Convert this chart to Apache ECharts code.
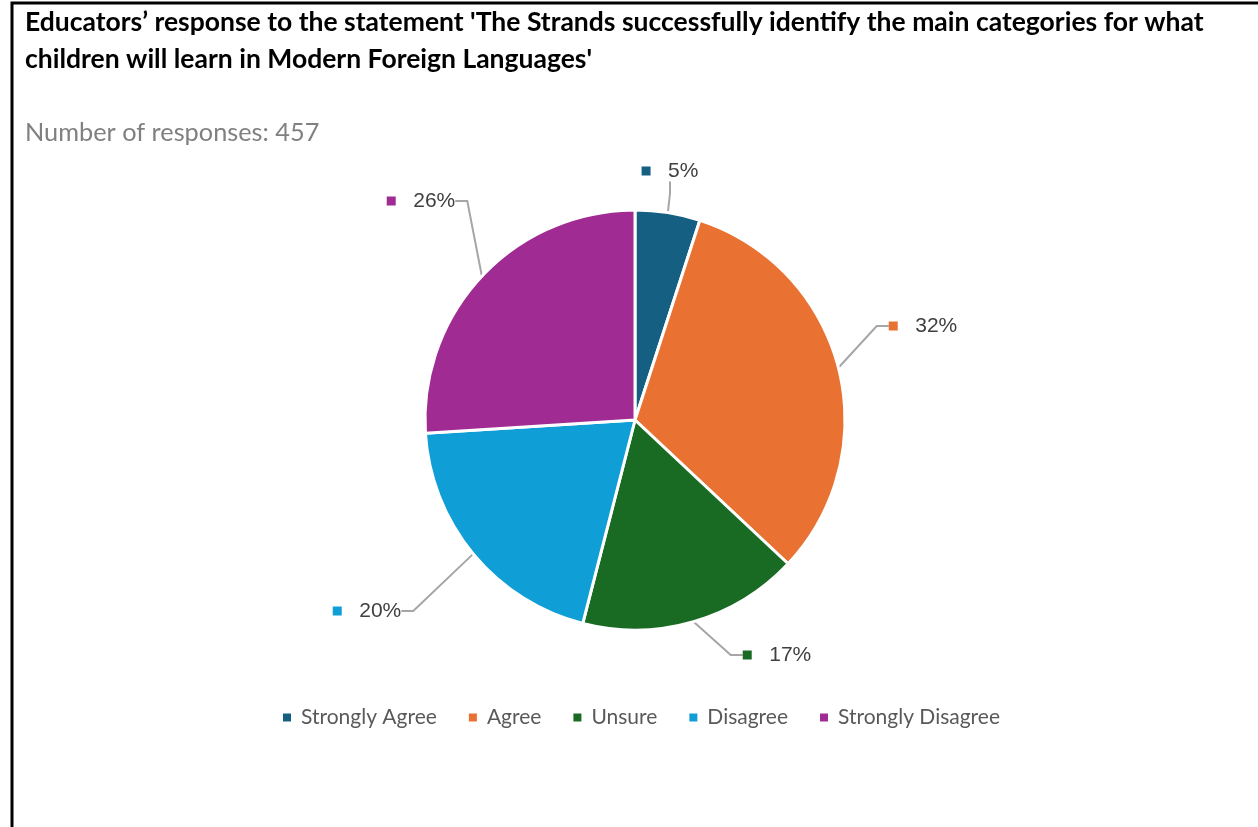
<!DOCTYPE html>
<html>
<head>
<meta charset="utf-8">
<script src="https://cdn.jsdelivr.net/npm/echarts@6/dist/echarts.min.js"></script>
<style>
  html, body { margin: 0; padding: 0; background: #ffffff; }
  #chart { width: 1258px; height: 827px; }
</style>
</head>
<body>
<div id="chart"></div>
<script>
// Survey responses, share of educators (%)
const categories = ['Strongly Agree', 'Agree', 'Unsure', 'Disagree', 'Strongly Disagree'];
const shares = [5, 32, 17, 20, 26];
const colors = ['#156082', '#E97132', '#196B24', '#0F9ED5', '#A02B93'];
const titleText = 'Educators\u2019 response to the statement \'The Strands successfully identify the main categories for what\nchildren will learn in Modern Foreign Languages\'';
const subtitleText = 'Number of responses: 457';

// Where each percentage label sits (label centre, px), pulled clear of the pie
const LABEL_POS = [[670, 171], [923, 326], [777, 655], [367, 611], [421, 201]];

const rich = { v: { fontFamily: 'Liberation Sans, Arial, sans-serif', fontSize: 21, color: '#404040' } };
colors.forEach((c, i) => {
  rich['k' + i] = { width: 9, height: 9, backgroundColor: c };
});

const chart = echarts.init(document.getElementById('chart'));
chart.setOption({
  animation: false,
  color: colors,
  title: [
    {
      text: titleText,
      left: 25, top: 4, padding: 0,
      textStyle: { fontFamily: 'Lato', fontWeight: 'bold', fontSize: 26.5, color: '#000000', lineHeight: 37 }
    },
    {
      text: subtitleText,
      left: 25, top: 120, padding: 0,
      textStyle: { fontFamily: 'Lato', fontWeight: 'normal', fontSize: 25.3, color: '#808080' }
    }
  ],
  legend: {
    top: 702,
    left: 276,
    icon: 'rect',
    itemWidth: 10,
    itemHeight: 10,
    itemGap: 30,
    textStyle: { fontFamily: 'Lato', fontSize: 21, color: '#595959', padding: [0, 0, 0, 4] },
    data: categories
  },
  graphic: [
    {
      type: 'polyline',
      shape: { points: [[12, 827], [12, 3], [1258, 3]] },
      style: { stroke: '#000000', lineWidth: 3, fill: null },
      silent: true
    }
  ],
  series: [
    {
      type: 'pie',
      center: [635, 420],
      radius: [0, 210],
      startAngle: 90,
      clockwise: true,
      itemStyle: { borderColor: '#ffffff', borderWidth: 3 },
      label: {
        show: true,
        position: 'outside',
        fontFamily: 'Liberation Sans, Arial, sans-serif',
        fontSize: 21,
        formatter: p => '{k' + p.dataIndex + '|}   {v|' + p.value + '%}',
        rich: rich
      },
      labelLine: {
        show: true,
        length: 30,
        length2: 12,
        lineStyle: { color: '#A6A6A6', width: 2 }
      },
      labelLayout: p => ({
        x: LABEL_POS[p.dataIndex][0],
        y: LABEL_POS[p.dataIndex][1],
        align: 'center',
        verticalAlign: 'middle'
      }),
      emphasis: { disabled: true },
      data: categories.map((name, i) => ({ name: name, value: shares[i] }))
    }
  ]
});
</script>
</body>
</html>
